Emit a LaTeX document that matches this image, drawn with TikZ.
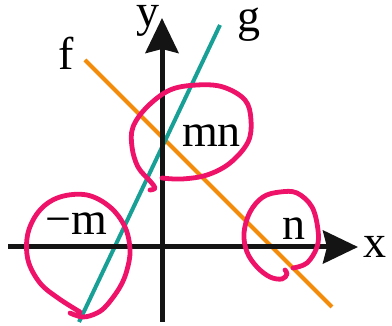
\documentclass[tikz,border=0pt]{standalone}
\usepackage{fontspec}
\setmainfont{Liberation Serif}
\usepackage{xcolor}
\usepackage{tikz}
\usetikzlibrary{arrows.meta}

\definecolor{fcol}{RGB}{242,140,10}
\definecolor{gcol}{RGB}{24,160,150}
\definecolor{pinkc}{RGB}{238,18,105}
\definecolor{axcol}{RGB}{20,20,20}

\begin{document}
\begin{tikzpicture}[
  x=1pt, y=-1pt,
  ax/.style={line width=5pt, axcol, -{Stealth[length=35pt, width=33pt, inset=4pt]}},
  fln/.style={line width=4pt, fcol},
  gln/.style={line width=4pt, gcol},
  loopc/.style={line width=4.8pt, pinkc, line cap=round, line join=round},
  lbl/.style={anchor=base west, inner sep=0pt, font=\fontsize{46}{50}\selectfont}
]
\useasboundingbox (0,0) rectangle (392,326);

\coordinate (xl) at (8,247);
\coordinate (xr) at (358,247);
\coordinate (yb) at (162,322);
\coordinate (yt) at (162,18);
\coordinate (f1) at (85,60);
\coordinate (f2) at (332,307);
\coordinate (g1) at (79,322);
\coordinate (g2) at (220,25);

\draw[fln] (f1) -- (f2);
\draw[gln] (g1) -- (g2);
\draw[ax] (xl) -- (xr);
\draw[ax] (yb) -- (yt);

\node[lbl] (ylab) at (136,27) {y};
\node[lbl] (xlab) at (363,258) {x};
\node[lbl] (glab) at (237,32) {g};
\node[lbl] (flab) at (58,70) {f};
\node[lbl] (mn) at (182,147) {mn};
\node[lbl] (mm) at (45,235) {−m};
\node[lbl] (nn) at (282,240) {n};

\draw[loopc] plot[smooth, tension=0.6] coordinates {(162,178) (182,179) (207,175) (230,163) (248,142) (251,120) (245,100) (223,87) (197,85) (170,90) (147,107) (133,127) (132,147) (138,167) (150,181) (155,188) (150,190)};
\draw[loopc] plot[smooth, tension=0.6] coordinates {(70,313) (83,317) (97,313) (107,305) (120,287) (127,270) (130,250) (125,227) (110,207) (87,195) (60,197) (40,210) (28,233) (28,260) (40,283) (58,298) (80,312)};
\draw[loopc] plot[smooth, tension=0.6] coordinates {(293,268) (307,263) (317,247) (318,230) (312,207) (297,193) (280,192) (263,197) (250,212) (244,233) (247,252) (257,267) (270,277) (282,279) (287,274) (285,270)};
\end{tikzpicture}
\end{document}
